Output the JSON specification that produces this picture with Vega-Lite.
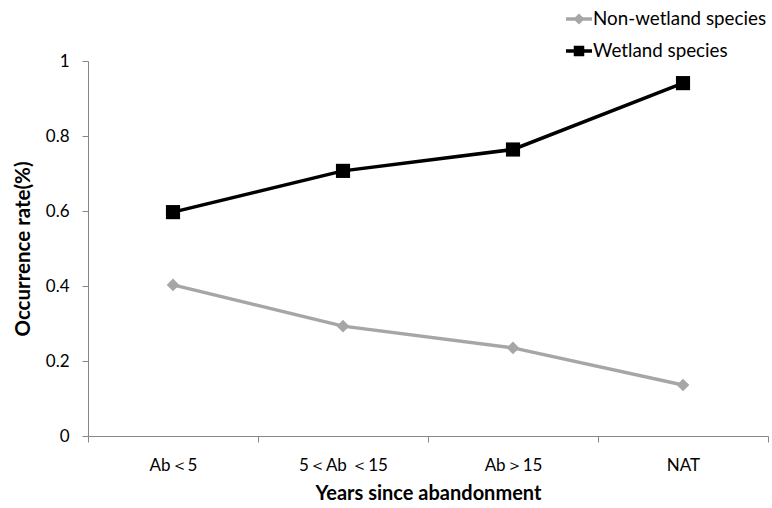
{
  "$schema": "https://vega.github.io/schema/vega-lite/v6.json",
  "width": 680,
  "height": 375,
  "autosize": {"type": "none"},
  "padding": {"left": 88, "top": 61, "right": 4, "bottom": 72},
  "background": "white",
  "config": {
    "view": {"stroke": null},
    "font": "Lato",
    "axis": {"labelFont": "Lato", "titleFont": "Lato", "domainColor": "#868686", "tickColor": "#868686", "labelColor": "#000", "titleColor": "#000", "grid": false}
  },
  "data": {
    "values": [
      {"period": "Ab＜5", "series": "Wetland species", "rate": 0.597},
      {"period": "5＜Ab ＜15", "series": "Wetland species", "rate": 0.707},
      {"period": "Ab＞15", "series": "Wetland species", "rate": 0.764},
      {"period": "NAT", "series": "Wetland species", "rate": 0.941},
      {"period": "Ab＜5", "series": "Non-wetland species", "rate": 0.403},
      {"period": "5＜Ab ＜15", "series": "Non-wetland species", "rate": 0.293},
      {"period": "Ab＞15", "series": "Non-wetland species", "rate": 0.235},
      {"period": "NAT", "series": "Non-wetland species", "rate": 0.136}
    ]
  },
  "encoding": {
    "x": {
      "field": "period", "type": "nominal",
      "sort": ["Ab＜5", "5＜Ab ＜15", "Ab＞15", "NAT"],
      "scale": {"type": "band", "paddingInner": 0, "paddingOuter": 0},
      "axis": {"title": "Years since abandonment", "titleFontSize": 20, "titleFontWeight": "bold", "titlePadding": 10, "labelFontSize": 17, "labelPadding": 15, "labelAngle": 0, "tickBand": "extent", "tickSize": 6, "domainWidth": 1}
    },
    "y": {
      "field": "rate", "type": "quantitative",
      "scale": {"domain": [0, 1], "nice": false},
      "axis": {"title": "Occurrence rate(%)", "titleFontSize": 20.5, "titleFontWeight": "bold", "titlePadding": 12, "labelFontSize": 17, "labelPadding": 13, "values": [0, 0.2, 0.4, 0.6, 0.8, 1], "format": ".1~f", "tickSize": 6}
    },
    "color": {
      "field": "series", "type": "nominal",
      "scale": {"domain": ["Non-wetland species", "Wetland species"], "range": ["#a6a6a6", "#000000"]},
      "legend": {
        "title": null, "orient": "none", "legendX": 476, "legendY": -57,
        "labelFontSize": 18.8, "labelFont": "Lato", "labelColor": "#000", "labelLimit": 300,
        "symbolSize": 676, "rowPadding": 6, "labelOffset": -1,
        "symbolStrokeWidth": 3.5,
        "encode": {
          "symbols": {
            "update": {
              "shape": {"signal": "datum.value == 'Wetland species' ? 'M-1,0L1,0M-0.27,-0.27L0.27,-0.27L0.27,0.27L-0.27,0.27Z' : 'M-1,0L1,0M0,-0.24L0.24,0L0,0.24L-0.24,0Z'"},
              "size": {"value": 676},
              "fill": {"signal": "datum.value == 'Wetland species' ? '#000000' : '#a6a6a6'"},
              "stroke": {"signal": "datum.value == 'Wetland species' ? '#000000' : '#a6a6a6'"},
              "strokeWidth": {"value": 3.5},
              "opacity": {"value": 1}
            }
          }
        }
      }
    }
  },
  "layer": [
    {"mark": {"type": "line", "strokeWidth": 3.5}},
    {
      "transform": [{"filter": "datum.series == 'Wetland species'"}],
      "mark": {"type": "point", "filled": true, "opacity": 1, "shape": "square", "size": 200}
    },
    {
      "transform": [{"filter": "datum.series == 'Non-wetland species'"}],
      "mark": {"type": "point", "filled": true, "opacity": 1, "shape": "diamond", "size": 160}
    }
  ]
}
